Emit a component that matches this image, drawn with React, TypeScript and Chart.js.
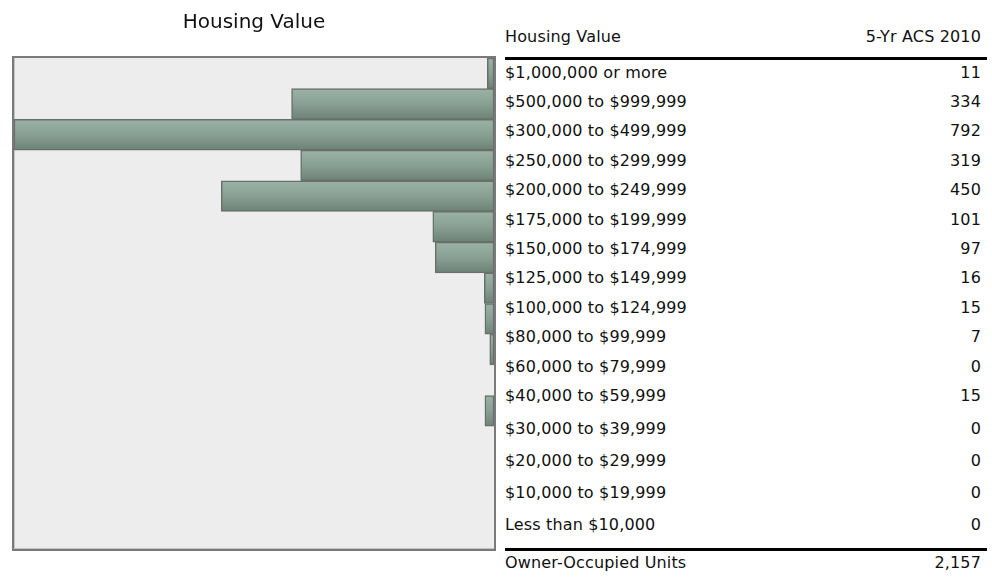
import React, { useEffect, useRef } from 'react';
import { Chart, registerables } from 'chart.js';

Chart.register(...registerables);

// ---- data ----
const TITLE = 'Housing Value';
const TABLE_HEADER_LABEL = 'Housing Value';
const TABLE_HEADER_VALUE = '5-Yr ACS 2010';
const CATEGORIES = [
  '$1,000,000 or more',
  '$500,000 to $999,999',
  '$300,000 to $499,999',
  '$250,000 to $299,999',
  '$200,000 to $249,999',
  '$175,000 to $199,999',
  '$150,000 to $174,999',
  '$125,000 to $149,999',
  '$100,000 to $124,999',
  '$80,000 to $99,999',
  '$60,000 to $79,999',
  '$40,000 to $59,999',
  '$30,000 to $39,999',
  '$20,000 to $29,999',
  '$10,000 to $19,999',
  'Less than $10,000',
];
const VALUES = [11, 334, 792, 319, 450, 101, 97, 16, 15, 7, 0, 15, 0, 0, 0, 0];
const AXIS_MAX = 792;
const TOTAL_LABEL = 'Owner-Occupied Units';
const TOTAL_VALUE = 2157;

// ---- layout (positions only) ----
const ROW_CENTER_Y = [73, 102, 131, 161, 190, 220, 249, 278, 308, 337, 367, 396, 429, 461, 493, 525];
const FONT = 'Verdana, "DejaVu Sans", sans-serif';

const boxPlugin = {
  id: 'boxPlugin',
  beforeDraw(chart: any) {
    const { ctx, chartArea: a } = chart;
    ctx.save();
    ctx.fillStyle = '#ededed';
    ctx.fillRect(a.left - 2, a.top - 2, a.right - a.left + 3, a.bottom - a.top + 3);
    ctx.strokeStyle = '#c4c4c4';
    ctx.lineWidth = 1;
    ctx.beginPath();
    ctx.moveTo(a.left + 0.5, a.top);
    ctx.lineTo(a.left + 0.5, a.bottom - 0.5);
    ctx.lineTo(a.right, a.bottom - 0.5);
    ctx.stroke();
    ctx.strokeStyle = '#7a7a7a';
    ctx.lineWidth = 2;
    ctx.strokeRect(a.left - 1, a.top - 1, a.right - a.left + 2, a.bottom - a.top + 2);
    // title
    ctx.fillStyle = '#111';
    ctx.font = '20px ' + FONT;
    ctx.textAlign = 'center';
    ctx.textBaseline = 'middle';
    ctx.fillText(TITLE, (a.left + a.right) / 2, 23);
    ctx.restore();
  },
};

function barGradient(c: any) {
  const chart = c.chart;
  const a = chart.chartArea;
  const y = chart.scales && chart.scales.y;
  if (!a || !y || c.dataIndex === undefined) return '#84998d';
  const center = y.getPixelForValue(c.dataIndex);
  const half = (a.bottom - a.top) / CATEGORIES.length / 2;
  const g = chart.ctx.createLinearGradient(0, center - half, 0, center + half);
  g.addColorStop(0, '#9bb2a6');
  g.addColorStop(0.5, '#889f93');
  g.addColorStop(1, '#6d8276');
  return g;
}

export default function App() {
  const ref = useRef<HTMLCanvasElement>(null);
  useEffect(() => {
    const chart = new Chart(ref.current as HTMLCanvasElement, {
      type: 'bar',
      data: {
        labels: CATEGORIES,
        datasets: [
          {
            data: VALUES,
            backgroundColor: barGradient as any,
            borderColor: '#687069',
            borderWidth: 1.5,
            borderSkipped: false,
            categoryPercentage: 1,
            barPercentage: 1,
          },
        ],
      },
      options: {
        indexAxis: 'y',
        animation: false,
        responsive: false,
        maintainAspectRatio: false,
        layout: { padding: { left: 14, right: 6, top: 58, bottom: 33 } },
        scales: {
          x: { display: false, min: 0, max: AXIS_MAX, reverse: true },
          y: { display: false },
        },
        plugins: {
          legend: { display: false },
          title: { display: false },
          tooltip: { enabled: false },
        },
      },
      plugins: [boxPlugin],
    });
    return () => chart.destroy();
  }, []);

  const text: React.CSSProperties = {
    position: 'absolute',
    font: '16px ' + FONT,
    color: '#111',
    lineHeight: '20px',
    whiteSpace: 'nowrap',
    letterSpacing: '0.15px',
  };
  const left = 505;
  const rightPad = 992 - 981;

  return (
    <div style={{ position: 'absolute', left: 0, top: 0, width: 992, height: 582, background: '#fff', overflow: 'hidden' }}>
      <canvas ref={ref} width={500} height={582} style={{ position: 'absolute', left: 0, top: 0, width: 500, height: 582 }} />
      <div style={{ ...text, left, top: 37 - 10 }}>{TABLE_HEADER_LABEL}</div>
      <div style={{ ...text, right: rightPad, top: 37 - 10 }}>{TABLE_HEADER_VALUE}</div>
      <div style={{ position: 'absolute', left, top: 57, width: 987 - left, height: 3, background: '#000' }} />
      {CATEGORIES.map((c, i) => (
        <React.Fragment key={c}>
          <div style={{ ...text, left, top: ROW_CENTER_Y[i] - 10 }}>{c}</div>
          <div style={{ ...text, right: rightPad, top: ROW_CENTER_Y[i] - 10 }}>{VALUES[i].toLocaleString('en-US')}</div>
        </React.Fragment>
      ))}
      <div style={{ position: 'absolute', left, top: 548, width: 987 - left, height: 3, background: '#000' }} />
      <div style={{ ...text, left, top: 563 - 10 }}>{TOTAL_LABEL}</div>
      <div style={{ ...text, right: rightPad, top: 563 - 10 }}>{TOTAL_VALUE.toLocaleString('en-US')}</div>
    </div>
  );
}
